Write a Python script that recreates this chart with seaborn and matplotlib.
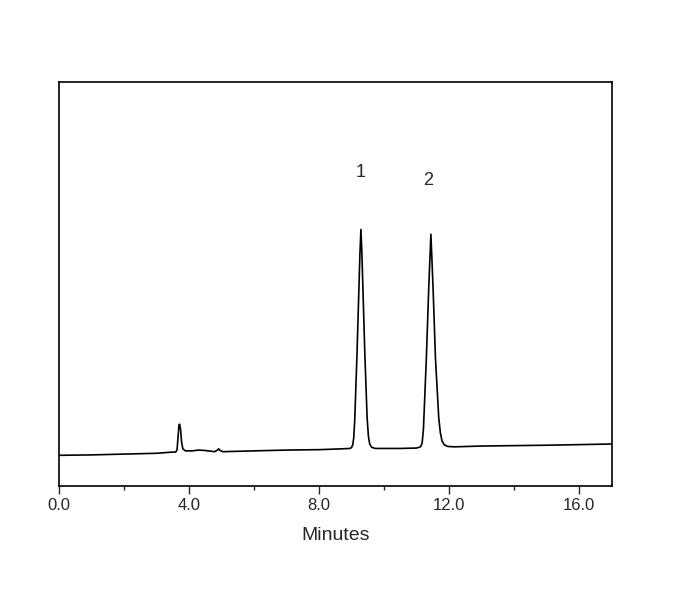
import matplotlib
matplotlib.use("Agg")
import matplotlib.pyplot as plt
from matplotlib.ticker import MultipleLocator
import pandas as pd
import seaborn as sns

# Chromatogram trace (time in minutes, detector signal in arbitrary units)
times = [
    0.0, 1.0, 2.0, 3.0, 3.5, 3.6, 3.64, 3.67, 3.70, 3.72, 3.75, 3.78, 3.82, 3.9,
    4.1, 4.3, 4.5, 4.8, 4.88, 4.92, 4.96, 5.05, 6.0, 7.0, 8.0, 8.7, 8.95,
    9.0, 9.04, 9.07, 9.10, 9.17, 9.23, 9.26, 9.29, 9.32, 9.35, 9.41, 9.48, 9.52,
    9.56, 9.62, 9.73,
    10.5, 11.0, 11.12, 11.17, 11.21, 11.30, 11.37, 11.41, 11.44, 11.47, 11.51, 11.58,
    11.68, 11.73, 11.78, 11.85, 11.95, 12.17, 13.0, 15.0, 17.0,
]
signal = [
    7.6, 7.7, 7.9, 8.1, 8.4, 8.4, 8.9, 11.9, 15.1, 15.3, 14.0, 10.9, 9.2, 8.7,
    8.7, 8.9, 8.8, 8.5, 8.9, 9.2, 8.8, 8.5, 8.7, 8.9, 9.0, 9.2, 9.3,
    9.5, 10.2, 12.0, 16.3, 32.8, 49.3, 57.6, 63.5, 57.6, 49.3, 32.8, 17.0, 12.3,
    10.4, 9.6, 9.3,
    9.3, 9.4, 9.7, 10.6, 14.0, 31.6, 48.2, 56.4, 62.3, 56.4, 48.2, 31.6,
    17.0, 13.2, 11.2, 10.2, 9.8, 9.7, 9.9, 10.1, 10.4,
]
peak_labels = ["1", "2"]
peak_label_x = [9.28, 11.36]
peak_label_y = [77.7, 75.7]

df = pd.DataFrame({"Minutes": times, "Signal": signal})

sns.set_style("ticks")
plt.rcParams["font.family"] = ["Liberation Sans", "DejaVu Sans"]

fig = plt.figure(figsize=(6.9, 5.93), dpi=100)
ax = fig.add_axes([0.0848, 0.1804, 0.802, 0.6813])
sns.lineplot(data=df, x="Minutes", y="Signal", ax=ax, color="black", linewidth=1.2)

for lab, lx, ly in zip(peak_labels, peak_label_x, peak_label_y):
    ax.text(lx, ly, lab, ha="center", va="center", fontsize=13)

ax.set_xlim(0, 17)
ax.set_ylim(0, 100)
ax.xaxis.set_major_locator(MultipleLocator(4))
ax.xaxis.set_minor_locator(MultipleLocator(2))
ax.xaxis.set_major_formatter(matplotlib.ticker.FormatStrFormatter("%.1f"))
ax.tick_params(axis="x", which="major", direction="out", length=5.5, width=1, labelsize=12, pad=3)
ax.tick_params(axis="x", which="minor", direction="out", length=3, width=1)
ax.set_yticks([])
ax.set_ylabel("")
ax.set_xlabel("Minutes", fontsize=14, labelpad=10)
for s in ax.spines.values():
    s.set_visible(True)
    s.set_linewidth(1.2)
    s.set_color("black")

fig.savefig("out.png", dpi=100)
